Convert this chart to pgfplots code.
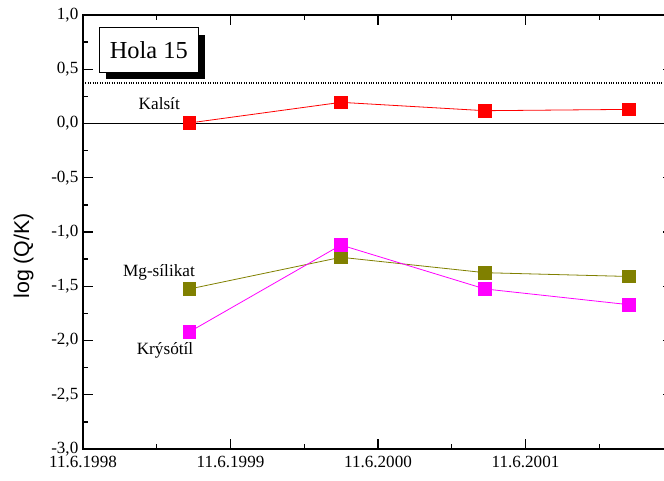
\documentclass[border=0pt]{standalone}
\usepackage{fontspec}
\setmainfont{Liberation Serif}
\newfontfamily\arialfont{Liberation Sans}
\usepackage{pgfplots}
\pgfplotsset{compat=1.18}
\definecolor{kal}{RGB}{255,0,0}
\definecolor{mgs}{RGB}{128,128,0}
\definecolor{kry}{RGB}{255,0,255}
\begin{document}
\begin{tikzpicture}[x=1pt,y=1pt]
\begin{axis}[
  at={(0,0)}, anchor=south west,
  scale only axis,
  width=442.5pt, height=325.5pt,
  xmin=0, xmax=4, ymin=-3, ymax=1,
  axis line style={line width=1.4pt},
  every tick/.style={line width=1.1pt, black},
  major tick length=7.5pt, minor tick length=3.5pt,
  tick align=inside,
  xtick={0,1,2,3,4},
  xticklabels={11.6.1998,11.6.1999,11.6.2000,11.6.2001,},
  minor xtick={0.5,1.5,2.5,3.5},
  ytick={-3,-2.5,-2,-1.5,-1,-0.5,0,0.5,1},
  yticklabels={{-3,0},{-2,5},{-2,0},{-1,5},{-1,0},{-0,5},{0,0},{0,5},{1,0}},
  minor ytick={-2.75,-2.25,-1.75,-1.25,-0.75,-0.25,0.25,0.75},
  ticklabel style={font=\fontsize{12.8pt}{14pt}\selectfont},
  xticklabel style={yshift=-2pt},
  ylabel={log (Q/K)},
  ylabel style={font=\arialfont\fontsize{16pt}{18pt}\selectfont, at={(axis description cs:-0.1005,0.445)}, anchor=center, rotate=0},
  clip=false,
]
\addplot[black, line width=0.8pt, forget plot] coordinates {(0,0) (4,0)};
\addplot[black, line width=0.8pt, densely dotted, forget plot] coordinates {(0,0.373) (4,0.373)};
\addplot[kal, line width=0.6pt, mark=square*, mark size=4.8pt, mark options={solid, fill=kal, draw=kal}]
  coordinates {(0.722,0.005) (1.749,0.195) (2.725,0.118) (3.702,0.13)};
\addplot[mgs, line width=0.6pt, mark=square*, mark size=4.8pt, mark options={solid, fill=mgs, draw=mgs}]
  coordinates {(0.722,-1.525) (1.749,-1.233) (2.725,-1.375) (3.702,-1.41)};
\addplot[kry, line width=0.6pt, mark=square*, mark size=4.8pt, mark options={solid, fill=kry, draw=kry}]
  coordinates {(0.722,-1.92) (1.749,-1.12) (2.725,-1.525) (3.702,-1.67)};
\node[font=\fontsize{12.9pt}{14pt}\selectfont] at (axis cs:0.517,0.18) {Kalsít};
\node[font=\fontsize{12.9pt}{14pt}\selectfont] at (axis cs:0.515,-1.37) {Mg-sílikat};
\node[font=\fontsize{12.9pt}{14pt}\selectfont] at (axis cs:0.556,-2.09) {Krýsótíl};
\fill[black] ([xshift=5pt,yshift=-5.2pt]axis cs:0.446,0.677) ++(-37.1pt,-16.75pt) rectangle ++(74.25pt,33.5pt);
\node[draw=black, line width=0.6pt, fill=white, minimum width=74.25pt, minimum height=33.5pt, inner sep=0pt, font=\fontsize{18.3pt}{20pt}\selectfont] at (axis cs:0.446,0.677) {Hola 15};
\end{axis}
\pgfresetboundingbox
\path (-62.25pt,-24pt) rectangle (435.75pt,336.75pt);
\end{tikzpicture}
\end{document}
